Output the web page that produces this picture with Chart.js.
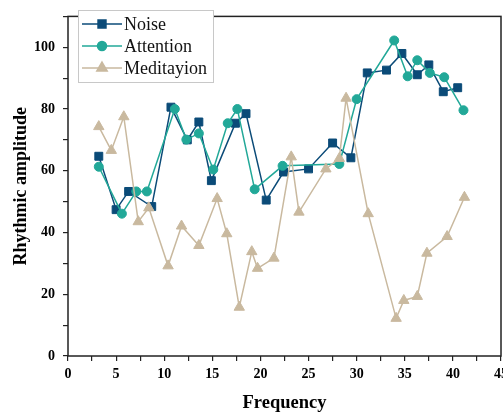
<!DOCTYPE html>
<html>
<head>
<meta charset="utf-8">
<script src="https://cdn.jsdelivr.net/npm/chart.js@4/dist/chart.umd.min.js"></script>
<style>
  body { margin: 0; background: #fff; overflow: hidden; }
  canvas { display: block; }
</style>
</head>
<body>
<canvas id="chartFreq" width="513" height="416"></canvas>
<script>
// values
const noiseX = [3.2, 5.0, 6.3, 8.7, 10.7, 12.4, 13.6, 14.9, 17.4, 18.5, 20.6, 22.4, 25.0, 27.5, 29.4, 31.1, 33.1, 34.7, 36.3, 37.5, 39.0, 40.5]
const noiseY = [64.7, 47.4, 53.3, 48.4, 80.6, 70.0, 75.8, 56.8, 75.4, 78.5, 50.5, 59.6, 60.6, 69.0, 64.2, 91.7, 92.6, 98.0, 91.1, 94.3, 85.6, 86.9]

const attentionX = [3.2, 5.6, 7.1, 8.2, 11.1, 12.3, 13.6, 15.1, 16.6, 17.6, 19.4, 22.3, 28.2, 30.0, 33.9, 35.3, 36.3, 37.6, 39.1, 41.1]
const attentionY = [61.3, 46.1, 53.3, 53.3, 80.0, 70.1, 72.1, 60.4, 75.4, 80.0, 54.0, 61.6, 62.2, 83.2, 102.2, 90.6, 95.8, 91.7, 90.3, 79.6]

const meditX = [3.2, 4.5, 5.8, 7.3, 8.4, 10.4, 11.8, 13.6, 15.5, 16.5, 17.8, 19.1, 19.7, 21.4, 23.2, 24.0, 26.8, 28.2, 28.9, 31.2, 34.1, 34.9, 36.3, 37.3, 39.4, 41.2]
const meditY = [74.3, 66.6, 77.5, 43.5, 48.0, 29.2, 42.1, 35.8, 51.0, 39.6, 15.8, 33.8, 28.4, 31.7, 64.5, 46.6, 60.6, 64.0, 83.5, 46.1, 12.2, 18.0, 19.3, 33.3, 38.7, 51.4]

const xTicks = [0, 5, 10, 15, 20, 25, 30, 35, 40, 45]
const yTicks = [0, 20, 40, 60, 80, 100]

const toPoints = (xs, ys) => xs.map((x, i) => ({ x: x, y: ys[i] }))

const serif = '"Liberation Serif", "DejaVu Serif", serif'

const series = [
  { label: 'Noise', color: '#0b4b78', style: 'rect', radius: 5.6, data: toPoints(noiseX, noiseY), order: 3 },
  { label: 'Attention', color: '#22a898', style: 'circle', radius: 4.5, data: toPoints(attentionX, attentionY), order: 2 },
  { label: 'Meditayion', color: '#c9b99f', style: 'triangle', radius: 6, data: toPoints(meditX, meditY), order: 1 }
]

// frame round the plot + legend box drawn like the original
const framePlugin = {
  id: 'frame',
  afterDraw(chart) {
    const ctx = chart.ctx
    const a = chart.chartArea
    ctx.save()
    ctx.strokeStyle = '#222'
    ctx.lineWidth = 1.5
    ctx.strokeRect(a.left, a.top, a.right - a.left, a.bottom - a.top)

    // legend
    const bx = 78, by = 10, bw = 135, bh = 72
    ctx.fillStyle = '#fff'
    ctx.fillRect(bx, by, bw, bh)
    ctx.strokeStyle = '#c8c8c8'
    ctx.lineWidth = 1
    ctx.strokeRect(bx + 0.5, by + 0.5, bw, bh)
    const rows = [24, 46, 68]
    chart.data.datasets.forEach((ds, i) => {
      const y = rows[i]
      ctx.strokeStyle = ds.borderColor
      ctx.lineWidth = 1.5
      ctx.beginPath()
      ctx.moveTo(82, y)
      ctx.lineTo(122, y)
      ctx.stroke()
      ctx.fillStyle = ds.pointBackgroundColor
      ctx.strokeStyle = ds.pointBorderColor
      Chart.helpers.drawPoint(ctx, { pointStyle: ds.pointStyle, radius: ds.pointRadius, borderWidth: 1, rotation: 0 }, 102, y)
      ctx.fillStyle = '#111'
      ctx.font = '18px ' + serif
      ctx.textBaseline = 'middle'
      ctx.textAlign = 'left'
      ctx.fillText(ds.label, 124, y + 1)
    })
    ctx.restore()
  }
}

const ctx = document.getElementById('chartFreq')
const myChart = new Chart(ctx, {
  type: 'line',
  data: {
    datasets: series.map(s => ({
      label: s.label,
      data: s.data,
      order: s.order,
      borderColor: s.color,
      backgroundColor: s.color,
      borderWidth: 1.5,
      pointStyle: s.style,
      pointRadius: s.radius,
      pointHoverRadius: s.radius,
      pointBackgroundColor: s.color,
      pointBorderColor: s.color,
      pointBorderWidth: 1,
      tension: 0,
      fill: false
    }))
  },
  options: {
    responsive: false,
    animation: false,
    events: [],
    layout: { padding: { top: 7, right: 0, left: 0, bottom: 0 } },
    plugins: {
      legend: { display: false },
      tooltip: { enabled: false }
    },
    scales: {
      x: {
        type: 'linear',
        min: 0,
        max: 45,
        border: { display: false },
        grid: { drawOnChartArea: false, drawTicks: true, tickLength: 5, tickColor: '#222', lineWidth: 1.2 },
        ticks: {
          stepSize: 2.5,
          autoSkip: false,
          maxRotation: 0,
          padding: 5,
          color: '#000',
          font: { family: serif, size: 14, weight: 'bold' },
          callback: v => xTicks.includes(v) ? String(v) : ''
        },
        title: {
          display: true,
          text: 'Frequency',
          color: '#000',
          font: { family: serif, size: 18.5, weight: 'bold' },
          padding: { top: 0, bottom: 2 }
        },
        afterFit(scale) {
          scale.height = 60
        }
      },
      y: {
        type: 'linear',
        min: 0,
        max: 110,
        border: { display: false },
        grid: { drawOnChartArea: false, drawTicks: true, tickLength: 5, tickColor: '#222', lineWidth: 1.2 },
        ticks: {
          stepSize: 10,
          autoSkip: false,
          padding: 8,
          color: '#000',
          font: { family: serif, size: 14, weight: 'bold' },
          callback: v => yTicks.includes(v) ? String(v) : ''
        },
        title: {
          display: true,
          text: 'Rhythmic amplitude',
          color: '#000',
          font: { family: serif, size: 18, weight: 'bold' },
          padding: { top: 11, bottom: 0 }
        },
        afterFit(scale) {
          scale.width = 68
        }
      }
    }
  },
  plugins: [framePlugin]
})
</script>
</body>
</html>
